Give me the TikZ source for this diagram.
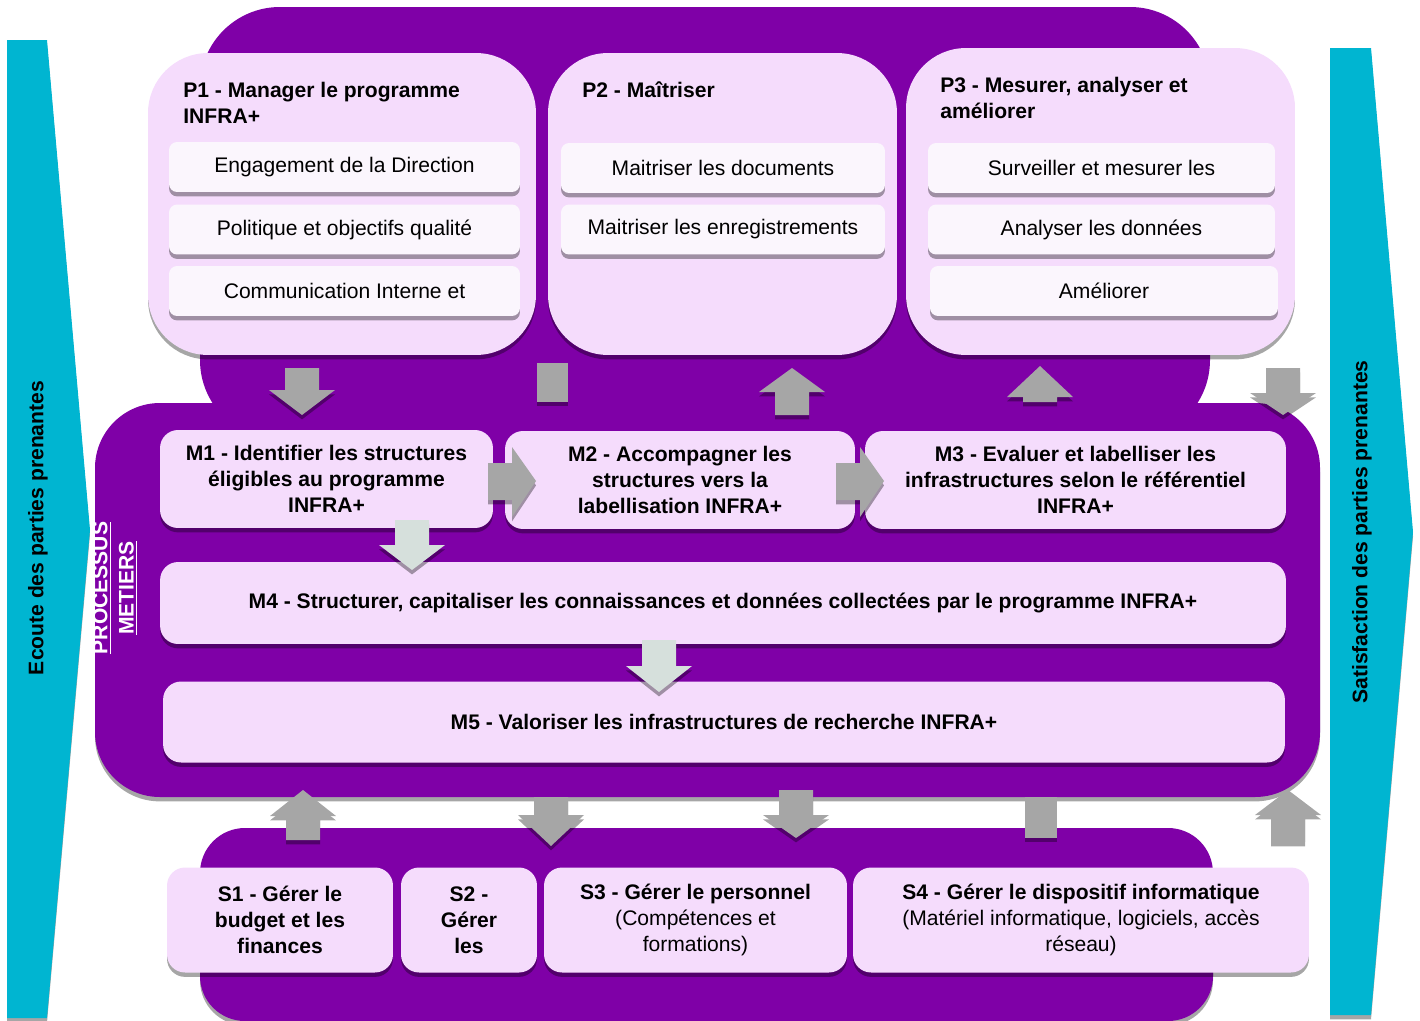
\documentclass[tikz,border=0pt]{standalone}
\usepackage{fontspec}
\setmainfont{Liberation Sans}
\usetikzlibrary{shadows, positioning}
\definecolor{purp}{RGB}{127,0,167}
\definecolor{pinkbox}{RGB}{245,220,252}
\definecolor{itembox}{RGB}{251,246,253}
\definecolor{band}{RGB}{0,181,209}
\definecolor{arrgray}{RGB}{166,166,166}
\definecolor{arrlight}{RGB}{214,224,220}

\begin{document}
\begin{tikzpicture}[x=0.02cm, y=-0.02cm,
        font=\fontsize{12}{14.8}\selectfont,
        shd/.style={drop shadow={shadow xshift=0pt, shadow yshift=-2.5pt, fill=black, opacity=0.35}},
        pbox/.style={rectangle, rounded corners=1.2cm, fill=pinkbox, shd},
        ptitle/.style={font=\fontsize{12}{14.8}\selectfont\bfseries, align=left, anchor=west, inner sep=0pt},
        item/.style={rectangle, rounded corners=0.16cm, fill=itembox, shd, minimum height=1.0cm, align=center},
        mbox/.style={rectangle, rounded corners=0.36cm, fill=pinkbox, shd, align=center, font=\fontsize{12}{14.8}\selectfont\bfseries},
        sbox/.style={rectangle, rounded corners=0.36cm, fill=pinkbox, shd, align=center, minimum height=2.1cm},
        bandtext/.style={rotate=90, font=\fontsize{12}{14.8}\selectfont\bfseries},
        pics/vblk/.style args={#1/#2/#3}{code={
            \fill[#1, shd] (-17,0) -- (17,0) -- (17,#2) -- (33,#2) -- (0,#3) -- (-33,#2) -- (-17,#2) -- cycle;}}
    ]
    \useasboundingbox (0,0) rectangle (1420,1021);

    % side bands
    \fill[band, shd] (7,40) -- (47,40) -- (90,530) -- (47,1018) -- (7,1018) -- cycle;
    \fill[band, shd] (1330,48) -- (1371,48) -- (1413,532) -- (1371,1015) -- (1330,1015) -- cycle;
    \node[bandtext] (listen) at (38,528) {Ecoute des parties prenantes};
    \node[bandtext] (satisf) at (1362,532) {Satisfaction des parties prenantes};

    % pilotage
    \fill[purp, rounded corners=1.6cm] (200,7) rectangle (1210,440);

    \node[pbox, minimum width=7.76cm, minimum height=6.04cm] (p1) at (342,204) {};
    \node[ptitle] (p1t) at (183,103) {P1 - Manager le programme\\INFRA+};
    \node[item, minimum width=7.02cm] (p1a) at (344.5,167) {Engagement de la Direction};
    \node[item, minimum width=7.02cm] (p1b) at (344.5,229.5) {Politique et objectifs qualité};
    \node[item, minimum width=7.02cm] (p1c) at (344.5,291) {Communication Interne et};

    \node[pbox, minimum width=6.98cm, minimum height=6.04cm] (p2) at (722.5,204) {};
    \node[ptitle] (p2t) at (582,90) {P2 - Maîtriser};
    \node[item, minimum width=6.48cm] (p2a) at (723,168) {Maitriser les documents};
    \node[item, minimum width=6.48cm] (p2b) at (723,229.5) {Maitriser les enregistrements};

    \node[pbox, minimum width=7.78cm, minimum height=6.14cm] (p3) at (1100.5,201.5) {};
    \node[ptitle] (p3t) at (940,98) {P3 - Mesurer, analyser et\\améliorer};
    \node[item, minimum width=6.94cm] (p3a) at (1101.5,168) {Surveiller et mesurer les};
    \node[item, minimum width=6.94cm] (p3b) at (1101.5,229.5) {Analyser les données};
    \node[item, minimum width=6.96cm] (p3c) at (1104,291) {Améliorer};

    % processus metiers
    \fill[purp, shd, rounded corners=1.3cm] (95,403) rectangle (1320,797);
    \node[rotate=90, white, align=center, inner sep=0pt, font=\fontsize{12}{14.8}\selectfont\bfseries] (proc) at (115,588) {\underline{PROCESSUS}\\\underline{METIERS}};

    \node[mbox, minimum width=6.66cm, minimum height=1.96cm] (m1) at (326.5,479) {M1 - Identifier les structures\\éligibles au programme\\INFRA+};
    \node[mbox, minimum width=7.0cm, minimum height=1.96cm] (m2) at (680,480) {M2 - Accompagner les\\structures vers la\\labellisation INFRA+};
    \node[mbox, minimum width=8.42cm, minimum height=1.96cm] (m3) at (1075.5,480) {M3 - Evaluer et labelliser les\\infrastructures selon le référentiel\\INFRA+};
    \node[mbox, minimum width=22.52cm, minimum height=1.64cm] (m4) at (723,603) {M4 - Structurer, capitaliser les connaissances et données collectées par le programme INFRA+};
    \node[mbox, minimum width=22.44cm, minimum height=1.62cm] (m5) at (724,722) {M5 - Valoriser les infrastructures de recherche INFRA+};

    % arrows between pilotage and metiers
    \pic at (302,368) {vblk={arrgray/22/47}};
    \fill[arrgray, shd] (537,363) rectangle (568,402);
    \pic at (792,415) {vblk={arrgray/-23/-47}};
    \pic at (1040,402) {vblk={arrgray/-5/-36}};
    \pic at (1283,368) {vblk={arrgray/25/47}};

    \fill[arrgray, shd] (488,463) -- (512,463) -- (512,447) -- (536,481) -- (512,517) -- (512,500) -- (488,500) -- cycle;
    \fill[arrgray, shd] (836,463) -- (860,463) -- (860,447) -- (884,481) -- (860,517) -- (860,500) -- (836,500) -- cycle;
    \pic at (412,520) {vblk={arrlight/25/50}};
    \pic at (659,640) {vblk={arrlight/26/52}};

    % support
    \fill[purp, shd, rounded corners=0.9cm] (200,828) rectangle (1213,1021);

    \node[sbox, minimum width=4.52cm, font=\fontsize{12}{14.8}\selectfont\bfseries] (s1) at (280,920) {S1 - Gérer le\\budget et les\\finances};
    \node[sbox, minimum width=2.72cm, font=\fontsize{12}{14.8}\selectfont\bfseries] (s2) at (469,920) {S2 -\\Gérer\\les};
    \node[sbox, minimum width=6.06cm] (s3) at (695.5,920) {\textbf{S3 - Gérer le personnel}\\(Compétences et\\formations)};
    \node[sbox, minimum width=9.12cm] (s4) at (1081,920) {\textbf{S4 - Gérer le dispositif informatique}\\(Matériel informatique, logiciels, accès\\réseau)};

    \pic at (303,840) {vblk={arrgray/-24/-50}};
    \pic at (551,797) {vblk={arrgray/18/49}};
    \pic at (796,790) {vblk={arrgray/25/48}};
    \fill[arrgray, shd] (1025,797) rectangle (1057,838);
    \pic at (1288,842) {vblk={arrgray/-27/-52}};
\end{tikzpicture}
\end{document}
